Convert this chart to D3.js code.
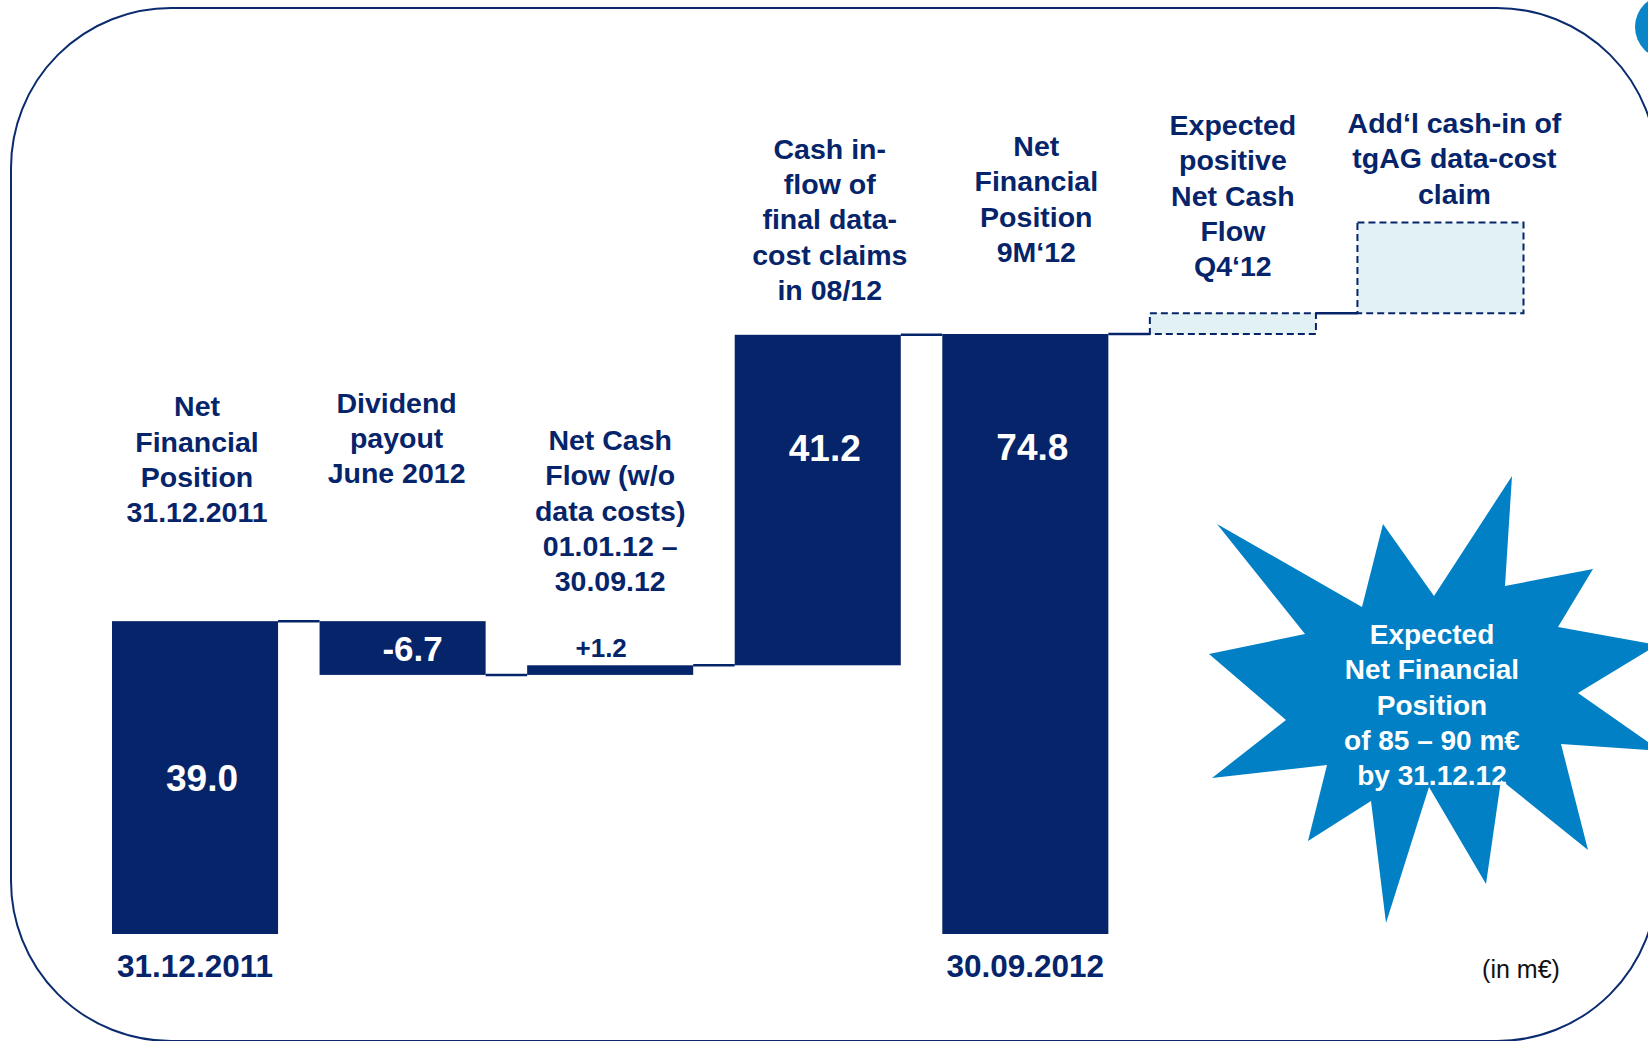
<!DOCTYPE html>
<html>
<head>
<meta charset="utf-8">
<script src="https://cdn.jsdelivr.net/npm/d3@7"></script>
<style>
  html, body { margin: 0; padding: 0; background: #ffffff; }
  svg { display: block; }
  text { font-family: "Liberation Sans", Arial, Helvetica, sans-serif; }
</style>
</head>
<body>
<script>
// ---- Data (in m€) ----
const categoryLines = [
  ["Net", "Financial", "Position", "31.12.2011"],
  ["Dividend", "payout", "June 2012"],
  ["Net Cash", "Flow (w/o", "data costs)", "01.01.12 –", "30.09.12"],
  ["Cash in-", "flow of", "final data-", "cost claims", "in 08/12"],
  ["Net", "Financial", "Position", "9M‘12"],
  ["Expected", "positive", "Net Cash", "Flow", "Q4‘12"],
  ["Add‘l cash-in of", "tgAG data-cost", "claim"]
];
const stepKinds  = ["total", "delta", "delta", "delta", "total", "projected", "projected"];
const stepValues = [39.0, -6.7, 1.2, 41.2, 74.8, 2.6, 11.3];
const valueLabels = ["39.0", "-6.7", "+1.2", "41.2", "74.8", null, null];
const dateLabels  = ["31.12.2011", null, null, null, "30.09.2012", null, null];
const calloutLines = ["Expected", "Net Financial", "Position", "of 85 – 90 m€", "by 31.12.12"];
const unitLabel = "(in m€)";

// ---- Layout / style ----
const W = 1648, H = 1041;
const NAVY = "#06246A";
const FRAME = "#0B2B6F";
const PALE = "#E2F2F4";
const BRIGHT = "#0180C5";
const labelDx = [2, -6, 0, 12, 11, 0, 14];          // horizontal nudge of category captions
const labelGap = [99, 138, 74, 35, 72, 37, 19];     // caption's last baseline above the step top
const valueDx = [7, 10, -9, 7, 7, 0, 0];
const valueMode = ["mid", "mid", "above", "top", "top", null, null];
const lineH = 35.3;

// ---- Waterfall geometry ----
let running = 0;
const steps = stepValues.map((v, i) => {
  let start, end;
  if (stepKinds[i] === "total") { start = 0; end = v; }
  else { start = running; end = running + v; }
  running = end;
  return { i, kind: stepKinds[i], value: v, start, end, level: end };
});

const x = d3.scaleBand().domain(d3.range(steps.length)).range([112, 1523.5]).paddingInner(0.2);
const y = d3.scaleLinear().domain([0, 74.8]).range([934, 334]);
const bw = x.bandwidth();

const svg = d3.select("body").append("svg").attr("width", W).attr("height", H);

// rounded frame
svg.append("rect")
  .attr("x", 11).attr("y", 8).attr("width", 1646).attr("height", 1033)
  .attr("rx", 160).attr("ry", 160)
  .attr("fill", "none").attr("stroke", FRAME).attr("stroke-width", 2);

// corner badge
svg.append("circle").attr("cx", 1667).attr("cy", 27).attr("r", 32).attr("fill", "#0A86C8");

// connectors between consecutive steps
const links = steps.slice(0, -1).map((s, i) => ({ x1: x(i) + bw, x2: x(i + 1), v: s.level }));
svg.append("g").selectAll("line").data(links).join("line")
  .attr("x1", d => d.x1).attr("x2", d => d.x2)
  .attr("y1", d => y(d.v)).attr("y2", d => y(d.v))
  .attr("stroke", NAVY).attr("stroke-width", 2.5);

// solid bars
svg.append("g").selectAll("rect").data(steps.filter(s => s.kind !== "projected")).join("rect")
  .attr("x", d => x(d.i)).attr("width", bw)
  .attr("y", d => y(Math.max(d.start, d.end)))
  .attr("height", d => Math.abs(y(d.start) - y(d.end)))
  .attr("fill", NAVY);

// projected (dashed) steps
svg.append("g").selectAll("rect").data(steps.filter(s => s.kind === "projected")).join("rect")
  .attr("x", d => x(d.i)).attr("width", bw)
  .attr("y", d => y(Math.max(d.start, d.end)))
  .attr("height", d => Math.abs(y(d.start) - y(d.end)))
  .attr("fill", PALE).attr("stroke", NAVY).attr("stroke-width", 2)
  .attr("stroke-dasharray", "7 4");

// category captions above each step
steps.forEach(s => {
  const lines = categoryLines[s.i];
  const top = y(Math.max(s.start, s.end));
  const lastBase = top - labelGap[s.i];
  const t = svg.append("text")
    .attr("text-anchor", "middle")
    .attr("font-size", 28.5).attr("font-weight", "bold").attr("fill", NAVY);
  lines.forEach((ln, k) => {
    t.append("tspan")
      .attr("x", x(s.i) + bw / 2 + labelDx[s.i])
      .attr("y", lastBase - (lines.length - 1 - k) * lineH)
      .text(ln);
  });
});

// value labels
steps.forEach(s => {
  const lab = valueLabels[s.i];
  if (!lab) return;
  const top = y(Math.max(s.start, s.end));
  const bot = y(Math.min(s.start, s.end));
  const cx = x(s.i) + bw / 2 + valueDx[s.i];
  let yy, size, fill;
  if (valueMode[s.i] === "mid") { size = s.kind === "total" ? 37 : 35; yy = (top + bot) / 2 + size * 0.36; fill = "#ffffff"; }
  else if (valueMode[s.i] === "top") { size = 37; yy = top + 126; fill = "#ffffff"; }
  else { size = 26; yy = top - 8; fill = NAVY; }
  svg.append("text").attr("x", cx).attr("y", yy)
    .attr("text-anchor", "middle").attr("font-size", size).attr("font-weight", "bold")
    .attr("fill", fill).text(lab);
});

// dates under the total bars
steps.forEach(s => {
  const lab = dateLabels[s.i];
  if (!lab) return;
  svg.append("text").attr("x", x(s.i) + bw / 2).attr("y", y(0) + 43)
    .attr("text-anchor", "middle").attr("font-size", 31.5).attr("font-weight", "bold")
    .attr("fill", NAVY).text(lab);
});

// starburst callout
const starC = [1431, 700];
const starPts = [
  [81, -224], [74, -114], [162, -131], [127, -73], [226, -55], [147, -7],
  [230, 51], [130, 44], [157, 150], [70, 80], [55, 184], [-2, 87],
  [-45, 223], [-60, 101], [-123, 141], [-104, 65], [-219, 78], [-145, 20],
  [-222, -46], [-126, -66], [-214, -176], [-69, -93], [-48, -176], [3, -104]
];
svg.append("path")
  .attr("d", d3.line()(starPts.map(p => [starC[0] + p[0], starC[1] + p[1]])) + "Z")
  .attr("fill", BRIGHT);

const ct = svg.append("text").attr("text-anchor", "middle")
  .attr("font-size", 28).attr("font-weight", "bold").attr("fill", "#ffffff");
calloutLines.forEach((ln, k) => {
  ct.append("tspan").attr("x", 1432).attr("y", 644 + k * lineH).text(ln);
});

// unit note
svg.append("text").attr("x", 1521).attr("y", 978)
  .attr("text-anchor", "middle").attr("font-size", 25).attr("fill", "#111111")
  .text(unitLabel);
</script>
</body>
</html>
